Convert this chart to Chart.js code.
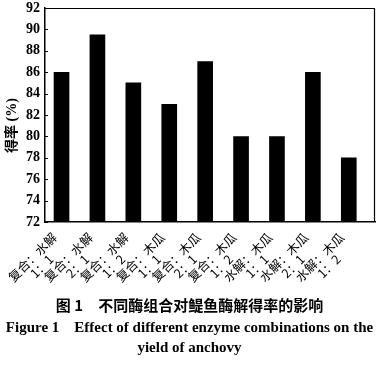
<!DOCTYPE html>
<html>
<head>
<meta charset="utf-8">
<script src="https://cdn.jsdelivr.net/npm/chart.js@4"></script>
<style>
html,body{margin:0;padding:0;background:#fff;}
#wrap{width:385px;height:370px;position:relative;}
</style>
</head>
<body>
<div id="wrap"><canvas id="c"></canvas></div>
<script>
const categoriesTop = ["复合：水解","复合：水解","复合：水解","复合：木瓜","复合：木瓜","复合：木瓜","水解：木瓜","水解：木瓜","水解：木瓜"];
const categoriesBottom = ["1：1","2：1","1：2","1：1","2：1","1：2","1：1","2：1","1：2"];
const yieldValues = [86, 89.5, 85, 83, 87, 80, 80, 86, 78];
const yTickValues = [72, 74, 76, 78, 80, 82, 84, 86, 88, 90, 92];
const yAxisTitle = "得率 (%)";
const captionCN = "图 1　不同酶组合对鳀鱼酶解得率的影响";
const captionEN = ["Figure 1    Effect of different enzyme combinations on the", "yield of anchovy"];

const points = yieldValues.map((v, i) => ({x: i + 1, y: v}));

const frame = {
  id: 'frame',
  afterDraw(chart) {
    const {ctx, chartArea: a} = chart;
    const ys = chart.scales.y;
    ctx.save();
    ctx.strokeStyle = '#000';
    ctx.lineWidth = 1.2;
    ctx.beginPath();
    ctx.moveTo(a.left, a.top + 0.5);
    ctx.lineTo(a.right - 0.5, a.top + 0.5);
    ctx.lineTo(a.right - 0.5, a.bottom);
    ctx.stroke();
    ctx.lineWidth = 1;
    ctx.beginPath();
    ys.ticks.forEach(t => {
      const py = Math.round(ys.getPixelForValue(t.value)) + 0.5;
      ctx.moveTo(a.left, py);
      ctx.lineTo(a.left + 3, py);
    });
    ctx.stroke();
    ctx.restore();
  }
};

const xLabels = {
  id: 'xLabels',
  afterDraw(chart) {
    const {ctx, chartArea: a} = chart;
    const xs = chart.scales.x;
    ctx.save();
    ctx.fillStyle = '#000';
    ctx.font = '12.5px "Noto Sans CJK SC"';
    ctx.textAlign = 'center';
    ctx.textBaseline = 'middle';
    const lh = 13;
    categoriesTop.forEach((t, i) => {
      const px = xs.getPixelForValue(i + 1);
      const w1 = ctx.measureText(t).width;
      ctx.save();
      ctx.translate(px - 7, a.bottom + 13);
      ctx.rotate(-Math.PI / 4);
      ctx.fillText(t, -w1 / 2, 0);
      ctx.fillText(categoriesBottom[i], -w1 / 2, lh);
      ctx.restore();
    });
    ctx.restore();
  }
};

new Chart(document.getElementById('c'), {
  type: 'bar',
  data: {
    datasets: [{
      data: points,
      backgroundColor: '#000',
      borderWidth: 0,
      barThickness: 15
    }]
  },
  options: {
    responsive: true,
    maintainAspectRatio: false,
    animation: false,
    layout: {padding: {left: 4, right: 10, top: 8, bottom: 12}},
    plugins: {
      legend: {display: false},
      tooltip: {enabled: false},
      subtitle: {
        display: true,
        position: 'bottom',
        text: captionCN,
        color: '#000',
        font: {family: '"Noto Sans CJK SC"', size: 15, weight: 'bold'},
        padding: {top: 66, bottom: 2},
        weight: 100
      },
      title: {
        display: true,
        position: 'bottom',
        text: captionEN,
        color: '#000',
        font: {family: '"Liberation Serif"', size: 15, weight: 'bold', lineHeight: 1.33},
        padding: {top: 2, bottom: 0},
        weight: 200
      }
    },
    scales: {
      x: {
        type: 'linear',
        min: 0.54,
        max: 9.73,
        offset: false,
        afterBuildTicks: (s) => { s.ticks = categoriesTop.map((_, i) => ({value: i + 1})); },
        ticks: {display: false},
        grid: {display: false},
        border: {display: true, color: '#000', width: 1.5}
      },
      y: {
        min: 72,
        max: 92,
        afterBuildTicks: (s) => { s.ticks = yTickValues.map(v => ({value: v})); },
        afterFit: (s) => { s.width = 41; s.paddingTop = 0; s.paddingBottom = 0; },
        ticks: {
          color: '#000',
          padding: 5,
          font: {family: '"Liberation Serif"', size: 14, weight: 'bold'}
        },
        grid: {display: false, drawTicks: false},
        border: {display: true, color: '#000', width: 1.5},
        title: {
          display: true,
          text: yAxisTitle + "\u2003\u2002",
          color: '#000',
          padding: {top: 0, bottom: 0},
          font: {family: '"Liberation Serif", "Noto Sans CJK SC"', size: 14, weight: 'bold'}
        }
      }
    }
  },
  plugins: [frame, xLabels]
});
</script>
</body>
</html>
